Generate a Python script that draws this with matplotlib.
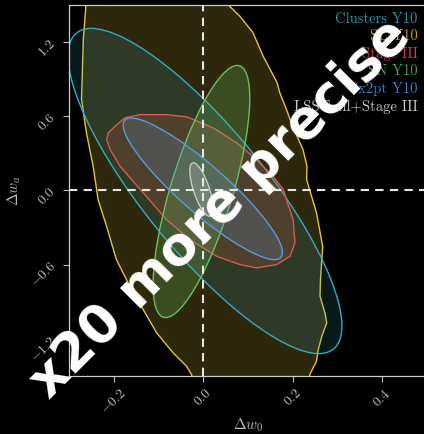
import numpy as np
import matplotlib.pyplot as plt
from matplotlib.patches import Ellipse, Polygon

plt.rcParams['font.family'] = 'cmr10'
plt.rcParams['mathtext.fontset'] = 'cm'
plt.rcParams['axes.formatter.use_mathtext'] = True

# --- MCMC-like contours (boundary), (w0, wa) ---
sl_w0 = [-0.262, -0.262, -0.268, -0.272, -0.261, -0.246, -0.235, -0.216, -0.194, -0.164,
         -0.134, -0.104, -0.067, -0.037, -0.026, -0.016,
         0.243, 0.238, 0.253, 0.257, 0.265, 0.276, 0.272, 0.261, 0.262, 0.267, 0.253,
         0.231, 0.232, 0.223, 0.200, 0.186, 0.171, 0.165, 0.134, 0.111, 0.082, 0.055, 0.026]
sl_wa = [1.78, 1.50, 1.215, 0.733, 0.464, 0.194, -0.075, -0.291, -0.560, -0.775,
         -0.964, -1.152, -1.314, -1.422, -1.489, -1.69,
         -1.69, -1.489, -1.381, -1.287, -1.179, -1.071, -0.990, -0.856, -0.721, -0.455, -0.180,
         0.086, 0.191, 0.329, 0.515, 0.652, 0.789, 0.870, 1.082, 1.274, 1.405, 1.500, 1.78]

s3_w0 = [-0.212, -0.201, -0.175, -0.141, -0.082, -0.037, 0.022, 0.075, 0.119, 0.156, 0.179,
         0.186, 0.201, 0.205, 0.194, 0.164, 0.119, 0.082, 0.030, -0.030, -0.082, -0.134,
         -0.186, -0.208, -0.216]
s3_wa = [0.464, 0.504, 0.585, 0.611, 0.611, 0.593, 0.504, 0.383, 0.248, 0.113, 0.006,
         -0.075, -0.237, -0.425, -0.533, -0.600, -0.627, -0.600, -0.533, -0.398, -0.237, -0.021,
         0.194, 0.329, 0.410]

# --- Fisher-like ellipses: centre, half-extent in w0 / wa, correlation ---
ell_names = ['Clusters Y10', 'SN Y10', '3x2pt Y10', 'LSST all+Stage III']
ell_w0 = [0.004, -0.004, -0.001, -0.004]
ell_wa = [-0.006, -0.010, 0.012, 0.006]
ell_sw0 = [0.306, 0.108, 0.178, 0.026]
ell_swa = [1.313, 1.018, 0.572, 0.216]
ell_rho = [-0.83, 0.74, -0.90, -0.70]

legend_labels = ['Clusters Y10', 'SL Y10', 'Stage III', 'SN Y10', '3x2pt Y10', 'LSST all+Stage III']
line_colors = {'Clusters Y10': '#3aa9c0', 'SL Y10': '#e3c440', 'Stage III': '#d65a4e',
               'SN Y10': '#6cbd62', '3x2pt Y10': '#5b9ad8', 'LSST all+Stage III': '#c8c8c8'}
text_colors = ['#2b98ab', '#c9a227', '#c9403d', '#4fa447', '#3f7fc6', '#c8c8c8']

fig = plt.figure(figsize=(4.24, 4.34), dpi=100, facecolor='black')
ax = fig.add_axes([0.1627, 0.1336, 0.8443, 0.856], facecolor='black')

handles = {}
sl = Polygon(np.column_stack([sl_w0, sl_wa]), closed=True, edgecolor='none', zorder=1)
sl.set_facecolor((0.89, 0.77, 0.25, 0.2))
ax.add_patch(sl)
ax.add_patch(Polygon(np.column_stack([sl_w0, sl_wa]), closed=True, fill=False,
                     edgecolor=line_colors['SL Y10'], lw=1.0, zorder=1.1))
handles['SL Y10'] = sl


def add_ellipse(i, z, a):
    c = [[ell_sw0[i] ** 2, ell_rho[i] * ell_sw0[i] * ell_swa[i]],
         [ell_rho[i] * ell_sw0[i] * ell_swa[i], ell_swa[i] ** 2]]
    vals, vecs = np.linalg.eigh(c)
    ang = np.degrees(np.arctan2(vecs[1, 1], vecs[0, 1]))
    col = line_colors[ell_names[i]]
    e = Ellipse((ell_w0[i], ell_wa[i]), 2 * np.sqrt(vals[1]), 2 * np.sqrt(vals[0]), angle=ang,
                facecolor=col, alpha=a, edgecolor='none', zorder=z)
    ax.add_patch(e)
    ax.add_patch(Ellipse((ell_w0[i], ell_wa[i]), 2 * np.sqrt(vals[1]), 2 * np.sqrt(vals[0]),
                         angle=ang, fill=False, edgecolor=col, lw=1.0, zorder=z + 0.1))
    handles[ell_names[i]] = e


add_ellipse(0, 2, 0.15)

s3 = Polygon(np.column_stack([s3_w0, s3_wa]), closed=True, facecolor=line_colors['Stage III'],
             alpha=0.2, edgecolor='none', zorder=3)
ax.add_patch(s3)
ax.add_patch(Polygon(np.column_stack([s3_w0, s3_wa]), closed=True, fill=False,
                     edgecolor=line_colors['Stage III'], lw=1.0, zorder=3.1))
handles['Stage III'] = s3

add_ellipse(1, 4, 0.25)
add_ellipse(2, 5, 0.2)
add_ellipse(3, 6, 0.25)

ax.axvline(0, color='#e6e6e6', ls=(0, (4, 3)), lw=1.5, zorder=7)
ax.axhline(0, color='#e6e6e6', ls=(0, (4, 3)), lw=1.5, zorder=7)

ax.set_xlim(-0.3, 0.5)
ax.set_ylim(-1.5, 1.5)
ax.set_xticks([-0.2, 0.0, 0.2, 0.4])
ax.set_yticks([-1.2, -0.6, 0.0, 0.6, 1.2])
ax.tick_params(colors='#bbbbbb', labelsize=10, length=4, width=0.8, labelrotation=45)
for s in ax.spines.values():
    s.set_color('#cccccc')
    s.set_linewidth(0.9)
ax.set_xlabel(r'$\Delta w_0$', color='#bbbbbb', fontsize=11, labelpad=0)
ax.set_ylabel(r'$\Delta w_a$', color='#bbbbbb', fontsize=11, labelpad=4)

leg = ax.legend([handles[k] for k in legend_labels], legend_labels, loc='upper right',
                bbox_to_anchor=(0.99, 0.995), frameon=False, handlelength=0, handletextpad=0,
                markerfirst=False, labelcolor=text_colors, fontsize=10.5, labelspacing=0.25,
                borderaxespad=0)
for h in leg.legend_handles:
    h.set_visible(False)

fig.text(0.518, 0.52, 'x20 more precise', color='white', fontsize=38, fontweight='bold',
         family='DejaVu Sans', rotation=45, ha='center', va='center', zorder=10)

fig.savefig('out.png', dpi=100, facecolor='black')
